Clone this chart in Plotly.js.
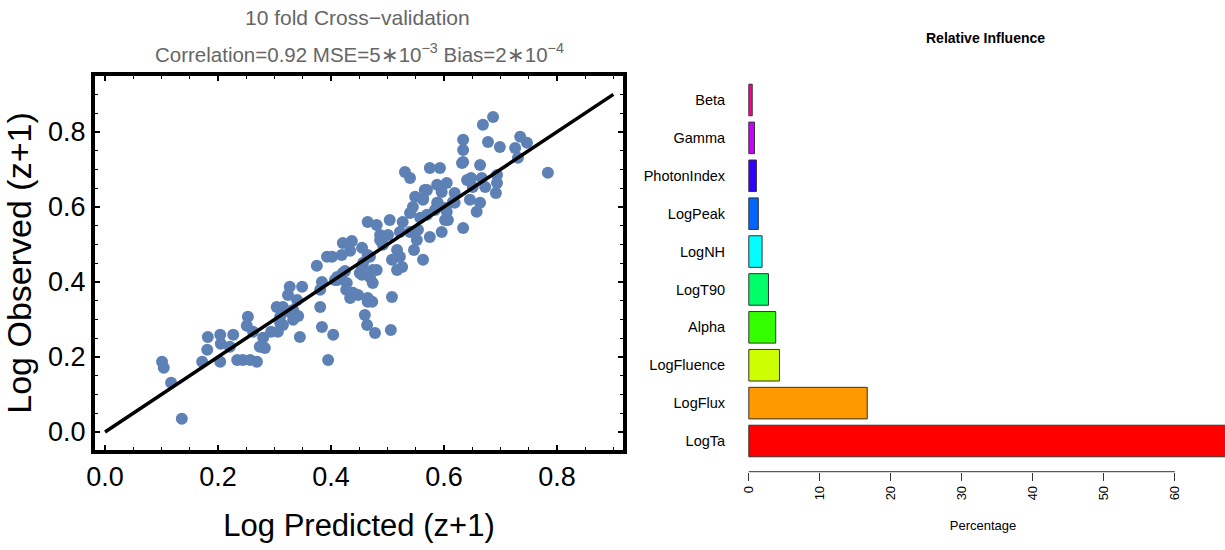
<!DOCTYPE html>
<html><head><meta charset="utf-8">
<script src="https://cdn.plot.ly/plotly-3.0.1.min.js"></script>
<style>html,body{margin:0;padding:0;background:#fff}#chart{width:1225px;height:550px}</style>
</head><body><div id="chart"></div>
<script>
// Left panel: 10-fold cross-validation scatter
const predicted = [0.101,0.104,0.117,0.136,0.172,0.181,0.182,0.204,0.205,0.204,
0.227,0.221,0.234,0.244,0.257,0.269,0.253,0.251,0.262,0.280,
0.283,0.274,0.294,0.304,0.315,0.310,0.306,0.310,0.327,0.324,
0.349,0.340,0.333,0.342,0.327,0.315,0.345,0.333,0.375,0.393,
0.381,0.381,0.384,0.404,0.395,0.407,0.428,0.421,0.439,0.427,
0.434,0.448,0.421,0.437,0.419,0.434,0.455,0.465,0.457,0.474,
0.469,0.451,0.425,0.411,0.384,0.465,0.460,0.464,0.478,0.506,
0.508,0.473,0.474,0.481,0.517,0.563,0.547,0.517,0.522,0.508,
0.526,0.487,0.492,0.469,0.455,0.455,0.465,0.402,0.411,0.465,
0.481,0.487,0.501,0.504,0.522,0.527,0.540,0.540,0.554,0.552,
0.545,0.549,0.563,0.570,0.588,0.605,0.588,0.602,0.619,0.619,
0.607,0.634,0.596,0.575,0.531,0.540,0.575,0.593,0.632,0.641,
0.648,0.651,0.667,0.664,0.673,0.694,0.694,0.692,0.646,0.664,
0.658,0.596,0.616,0.566,0.563,0.589,0.584,0.605,0.602,0.570,
0.558,0.687,0.669,0.678,0.699,0.735,0.747,0.726,0.731,0.784,
0.634,0.634,0.634];
const observed = [0.187,0.171,0.131,0.035,0.187,0.219,0.253,0.259,0.235,0.187,
0.259,0.227,0.192,0.192,0.192,0.187,0.307,0.283,0.267,0.251,
0.224,0.227,0.267,0.333,0.333,0.307,0.267,0.291,0.387,0.365,
0.387,0.352,0.325,0.309,0.320,0.285,0.253,0.299,0.443,0.467,
0.379,0.333,0.280,0.259,0.192,0.405,0.397,0.424,0.371,0.379,
0.357,0.365,0.504,0.509,0.472,0.483,0.491,0.472,0.451,0.432,
0.413,0.424,0.429,0.405,0.400,0.347,0.312,0.285,0.264,0.272,
0.360,0.347,0.397,0.432,0.432,0.459,0.485,0.485,0.467,0.459,
0.440,0.512,0.499,0.467,0.440,0.419,0.357,0.467,0.413,0.560,
0.552,0.525,0.525,0.565,0.533,0.560,0.584,0.533,0.539,0.512,
0.600,0.627,0.624,0.645,0.659,0.664,0.611,0.597,0.611,0.637,
0.565,0.544,0.533,0.520,0.693,0.677,0.704,0.704,0.717,0.672,
0.677,0.653,0.677,0.712,0.653,0.685,0.664,0.637,0.619,0.611,
0.587,0.640,0.613,0.645,0.619,0.611,0.592,0.587,0.565,0.579,
0.571,0.840,0.819,0.773,0.760,0.787,0.771,0.757,0.731,0.691,
0.779,0.752,0.720];
const refLineX = [0, 0.9];
const refLineY = [0, 0.9];
const axisTicks = [0, 0.2, 0.4, 0.6, 0.8];
const axisTickText = ['0.0', '0.2', '0.4', '0.6', '0.8'];

// Right panel: relative influence
const features = ['LogTa','LogFlux','LogFluence','Alpha','LogT90','LogNH','LogPeak','PhotonIndex','Gamma','Beta'];
const influence = [67.2, 16.68, 4.32, 3.79, 2.77, 1.87, 1.34, 1.07, 0.80, 0.48];
const barColors = ['#FF0000','#FF9900','#CCFF00','#33FF00','#00FF66','#00FFFF','#0066FF','#3300FF','#CC00FF','#FF0099'];
const pctTicks = [0, 10, 20, 30, 40, 50, 60];

const W = 1225, H = 550;
const px = v => v / W, py = v => 1 - v / H;
const FONT = 'Liberation Sans, Arial, sans-serif';

const traces = [
  {x: predicted, y: observed, type: 'scatter', mode: 'markers', xaxis: 'x', yaxis: 'y',
   marker: {color: '#5E81B5', size: 12, line: {width: 0}}, hoverinfo: 'x+y'},
  {x: refLineX, y: refLineY, type: 'scatter', mode: 'lines', xaxis: 'x', yaxis: 'y',
   line: {color: '#000', width: 3.5}, hoverinfo: 'skip'},
  {x: influence, y: features, type: 'bar', orientation: 'h', xaxis: 'x2', yaxis: 'y2',
   width: 0.833, marker: {color: barColors, line: {color: '#333', width: 1}}}
];

const yb2 = py(471.7);
const layout = {
  width: W, height: H, showlegend: false,
  margin: {l: 0, r: 0, t: 0, b: 0},
  paper_bgcolor: '#fff', plot_bgcolor: '#fff',
  font: {family: FONT, color: '#000'},
  xaxis: {
    domain: [px(95), px(623)], range: [-0.0177, 0.917],
    tickvals: axisTicks, ticktext: axisTickText,
    ticks: 'inside', ticklen: 5, tickwidth: 2, tickcolor: '#000',
    minor: {dtick: 0.05, tick0: 0, ticks: 'inside', ticklen: 3, tickwidth: 1, tickcolor: '#000'},
    showline: true, linewidth: 4, linecolor: '#000', mirror: 'allticks',
    showgrid: false, zeroline: false,
    tickfont: {size: 27, family: FONT, color: '#000'},
    title: {text: 'Log Predicted (z+1)', font: {size: 31, family: FONT, color: '#000'}, standoff: 24}
  },
  yaxis: {
    domain: [py(450), py(76)], range: [-0.048, 0.949],
    tickvals: axisTicks, ticktext: axisTickText,
    ticks: 'inside', ticklen: 5, tickwidth: 2, tickcolor: '#000',
    minor: {dtick: 0.05, tick0: 0, ticks: 'inside', ticklen: 3, tickwidth: 1, tickcolor: '#000'},
    showline: true, linewidth: 4, linecolor: '#000', mirror: 'allticks',
    showgrid: false, zeroline: false,
    tickfont: {size: 27, family: FONT, color: '#000'},
    title: {text: 'Log Observed (z+1)', font: {size: 34, family: FONT, color: '#000'}, standoff: 8}
  },
  xaxis2: {
    domain: [px(741), 1], range: [-1.1, 67.07], anchor: 'y2',
    tickvals: pctTicks, ticks: 'outside', ticklen: 8, tickwidth: 1, tickcolor: '#333',
    tickangle: -90, showline: false, showgrid: false, zeroline: false,
    tickfont: {size: 13, family: FONT, color: '#000'},
    title: {text: 'Percentage', font: {size: 13, family: FONT, color: '#000'}, standoff: 21}
  },
  yaxis2: {
    domain: [yb2, py(69.3)], anchor: 'x2', type: 'category',
    categoryorder: 'array', categoryarray: features, range: [-0.81, 9.81],
    ticks: 'outside', ticklen: 12, tickcolor: 'rgba(0,0,0,0)',
    showline: false, showgrid: false, zeroline: false,
    tickfont: {size: 14.5, family: FONT, color: '#000'}
  },
  shapes: [
    {type: 'line', xref: 'x2', yref: 'paper', x0: pctTicks[0], x1: pctTicks[pctTicks.length - 1],
     y0: yb2, y1: yb2, line: {color: '#333', width: 1}}
  ],
  annotations: [
    {text: '10 fold Cross\u2212validation', xref: 'paper', yref: 'paper', x: px(357), y: py(18),
     xanchor: 'center', yanchor: 'middle', showarrow: false,
     font: {size: 21, family: FONT, color: '#666'}},
    {text: 'Correlation=0.92 MSE=5\u221710<sup>\u22123</sup> Bias=2\u221710<sup>\u22124</sup>', xref: 'paper', yref: 'paper',
     x: px(359), y: py(53), xanchor: 'center', yanchor: 'middle', showarrow: false,
     font: {size: 20.5, family: FONT, color: '#666'}},
    {text: '<b>Relative Influence</b>', xref: 'paper', yref: 'paper', x: px(985), y: py(38),
     xanchor: 'center', yanchor: 'middle', showarrow: false,
     font: {size: 14, family: FONT, color: '#000'}}
  ]
};

Plotly.newPlot('chart', traces, layout, {displayModeBar: false, staticPlot: true});
</script>
</body></html>
